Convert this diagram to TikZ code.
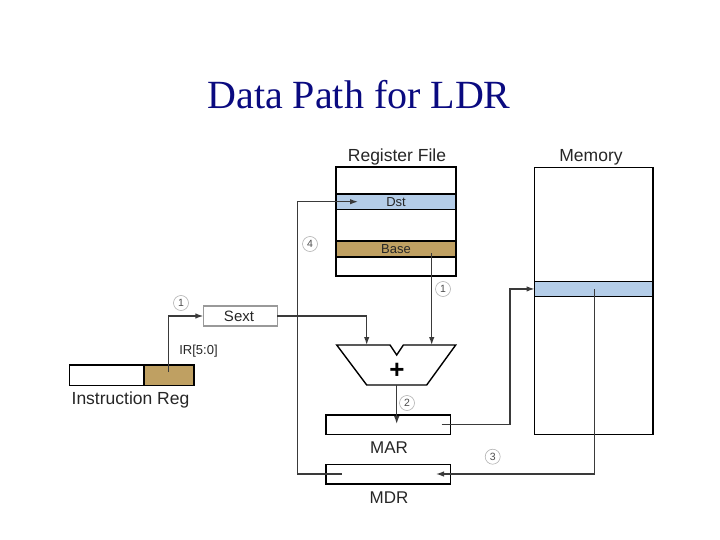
\documentclass[tikz,border=0pt]{standalone}
\usepackage{fontspec}
\setmainfont{Liberation Serif}
\newfontfamily\arial{Liberation Sans}
\usetikzlibrary{arrows.meta}
\definecolor{titleblue}{HTML}{0A0A80}
\definecolor{bandblue}{HTML}{B4CDE8}
\definecolor{bandbrown}{HTML}{BFA062}
\definecolor{wire}{HTML}{3A3A3A}
\begin{document}
\begin{tikzpicture}[x=1pt,y=-1pt,
  box/.style={draw=black,line width=1.4pt,inner sep=0,outer sep=0,anchor=north west},
  conn/.style={draw=wire,line width=1.2pt},
  arr/.style={conn,-{Latex[length=8pt,width=5.5pt]}},
  lbl/.style={inner sep=0,font=\arial\fontsize{17.5}{17.5}\selectfont,text=black!85},
  small/.style={inner sep=0,font=\arial\fontsize{13}{13}\selectfont,text=black!85},
  num/.style={circle,draw=gray!60,line width=0.6pt,inner sep=0,minimum size=15pt,font=\arial\fontsize{10.5}{10.5}\selectfont,text=black!70}]
\useasboundingbox (0,0) rectangle (720,540);

% title
\node[anchor=base,inner sep=0,text=titleblue,font=\fontsize{40}{40}\selectfont] (title) at (359,109) {Data Path for LDR};

% register file
\node[box,minimum width=120pt,minimum height=109pt] (rf) at (336,167) {};
\node[box,fill=bandblue,minimum width=120pt,minimum height=15.5pt] (dst) at (336,194) {};
\node[box,fill=bandbrown,minimum width=120pt,minimum height=16pt] (base) at (336,241) {};
\node[lbl] (rflbl) at (397,157) {Register File};
\node[small] (dstlbl) at (396,202) {Dst};
\node[small] (baselbl) at (396,249) {Base};

% memory
\node[box,minimum width=118.5pt,minimum height=267pt] (mem) at (534.5,167.5) {};
\node[box,fill=bandblue,minimum width=118.5pt,minimum height=14.5pt] (memrow) at (534.5,281.7) {};
\node[lbl] (memlbl) at (591,157) {Memory};

% sext
\node[box,draw=gray!80,line width=1.1pt,minimum width=74pt,minimum height=20pt] (sext) at (203.3,306) {};
\node[inner sep=0,font=\arial\fontsize{15}{15}\selectfont,text=black!85] (sextlbl) at (239,316) {Sext};

% instruction register
\node[box,minimum width=74.7pt,minimum height=20.7pt] (irl) at (69.3,365) {};
\node[box,fill=bandbrown,minimum width=50pt,minimum height=20.7pt] (irr) at (144,365) {};
\node[lbl] (irlbl) at (130.5,399.5) {Instruction Reg};
\node[inner sep=0,font=\arial\fontsize{13}{13}\selectfont,text=black!85] (irbits) at (198.5,351.5) {IR[5:0]};

% ALU
\draw[line width=1.4pt,line join=miter] (336.7,345) -- (390,345) -- (396.7,355) -- (403.4,345) -- (455.7,345)
  -- (426.7,385) -- (366.7,385) -- cycle;
\coordinate (aluL) at (366.7,345);
\coordinate (aluR) at (431.7,345);
\coordinate (aluO) at (396.7,385);
\node[inner sep=0,font=\arial\bfseries\fontsize{26}{26}\selectfont] (plus) at (397,371) {+};

% MAR, MDR
\node[box,minimum width=124.7pt,minimum height=19.3pt] (mar) at (326,415) {};
\node[box,minimum width=124.7pt,minimum height=19.7pt] (mdr) at (326,464.3) {};
\node[inner sep=0,font=\arial\fontsize{17}{17}\selectfont,text=black!85] (marlbl) at (389,448) {MAR};
\node[inner sep=0,font=\arial\fontsize{17}{17}\selectfont,text=black!85] (mdrlbl) at (389,497.5) {MDR};

% connector end points
\coordinate (irsrc) at (168.3,372);
\coordinate (basesrc) at (431.7,253);
\coordinate (marin) at (396.7,424);
\coordinate (marsrc) at (441.7,424.5);
\coordinate (memsrc) at (594.3,289);
\coordinate (mdrin) at (436,474);
\coordinate (mdrsrc) at (341.7,474);
\coordinate (dstin) at (358,201.7);

% connectors
\draw[arr] (irsrc) |- (sext.west);
\draw[arr] (sext.east) -| (aluL);
\draw[arr] (basesrc) -- (aluR);
\draw[arr] (aluO) -- (marin);
\draw[arr] (marsrc) -- (510,424.5) |- (memrow.west);
\draw[arr] (memsrc) |- (mdrin);
\draw[arr] (mdrsrc) -- (297.3,474) |- (dstin);

% step numbers
\node[num] (n1a) at (181,303) {1};
\node[num] (n1b) at (443,289) {1};
\node[num] (n2) at (407,403) {2};
\node[num] (n3) at (492.7,456.7) {3};
\node[num] (n4) at (310,244) {4};
\end{tikzpicture}
\end{document}
